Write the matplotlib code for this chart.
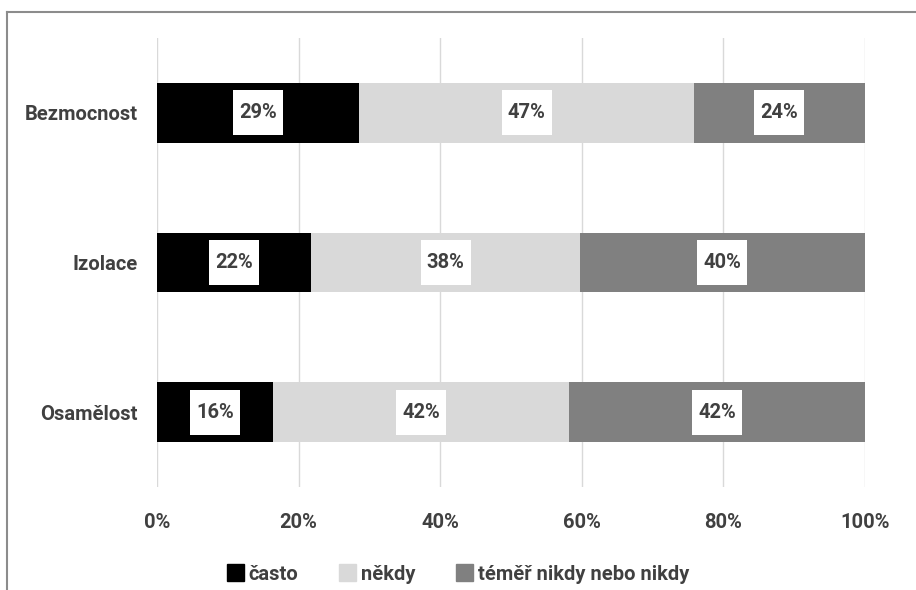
import matplotlib
matplotlib.use("Agg")
import matplotlib.pyplot as plt
from matplotlib.lines import Line2D
import numpy as np

categories = ["Bezmocnost", "Izolace", "Osamělost"]
series_names = ["často", "někdy", "téměř nikdy nebo nikdy"]
casto = [28.6, 21.8, 16.4]
nekdy = [47.2, 37.9, 41.8]
temer = [24.2, 40.3, 41.8]
labels_casto = ["29%", "22%", "16%"]
labels_nekdy = ["47%", "38%", "42%"]
labels_temer = ["24%", "40%", "42%"]
xticks = [0, 20, 40, 60, 80, 100]
xticklabels = ["0%", "20%", "40%", "60%", "80%", "100%"]

colors = ["#000000", "#D9D9D9", "#808080"]
txt = "#404040"
FONT = ["Roboto", "DejaVu Sans"]
plt.rcParams["font.family"] = FONT
plt.rcParams["font.weight"] = "bold"
FS = 14.5

fig = plt.figure(figsize=(9.16, 5.90), dpi=100)
W, H = 916, 590
ax = fig.add_axes([157 / W, 1 - 487 / H, (865 - 157) / W, (487 - 38) / H])

y = np.arange(len(categories))
bar_h = 0.40
left = np.zeros(len(categories))
series = [casto, nekdy, temer]
lbls = [labels_casto, labels_nekdy, labels_temer]
handles = []
for vals, lab, col, name in zip(series, lbls, colors, series_names):
    vals = np.array(vals)
    ax.barh(y, vals, left=left, height=bar_h, color=col, zorder=2, label=name)
    centers = left + vals / 2
    box_w = 7.06
    ax.barh(y, [box_w] * len(y), left=centers - box_w / 2, height=0.30,
            color="white", zorder=3)
    for yi, cx, t in zip(y, centers, lab):
        ax.text(cx, yi, t, ha="center", va="center", fontsize=FS,
                fontweight="bold", color=txt, zorder=4)
    handles.append(plt.Rectangle((0, 0), 1, 1, color=col))
    left = left + vals

ax.set_xlim(0, 100)
ax.set_ylim(len(categories) - 0.5, -0.5)
ax.set_xticks(xticks)
ax.set_xticklabels(xticklabels)
ax.set_yticks(y)
ax.set_yticklabels(categories)
ax.grid(axis="x", color="#D9D9D9", linewidth=1, zorder=0)
ax.set_axisbelow(True)
for s in ax.spines.values():
    s.set_visible(False)
ax.tick_params(axis="x", length=0, pad=19, labelsize=FS, labelcolor=txt)
ax.tick_params(axis="y", length=0, pad=14, labelsize=FS, labelcolor=txt)
for t in ax.get_xticklabels() + ax.get_yticklabels():
    t.set_fontweight("bold")

leg = fig.legend(handles, series_names, loc="center",
                 bbox_to_anchor=(0.5, 1 - 574 / H), ncol=3, frameon=False,
                 handlelength=0.85, handleheight=0.85, handletextpad=0.25,
                 columnspacing=2.0, prop={"size": FS, "weight": "bold"})
for t in leg.get_texts():
    t.set_color(txt)

# chart border (top and left visible)
fig.add_artist(Line2D([7 / W, 1], [1 - 12 / H, 1 - 12 / H], color="#8C8C8C", lw=1.5))
fig.add_artist(Line2D([7 / W, 7 / W], [0, 1 - 12 / H], color="#8C8C8C", lw=1.5))

fig.savefig("out.png", dpi=100)
